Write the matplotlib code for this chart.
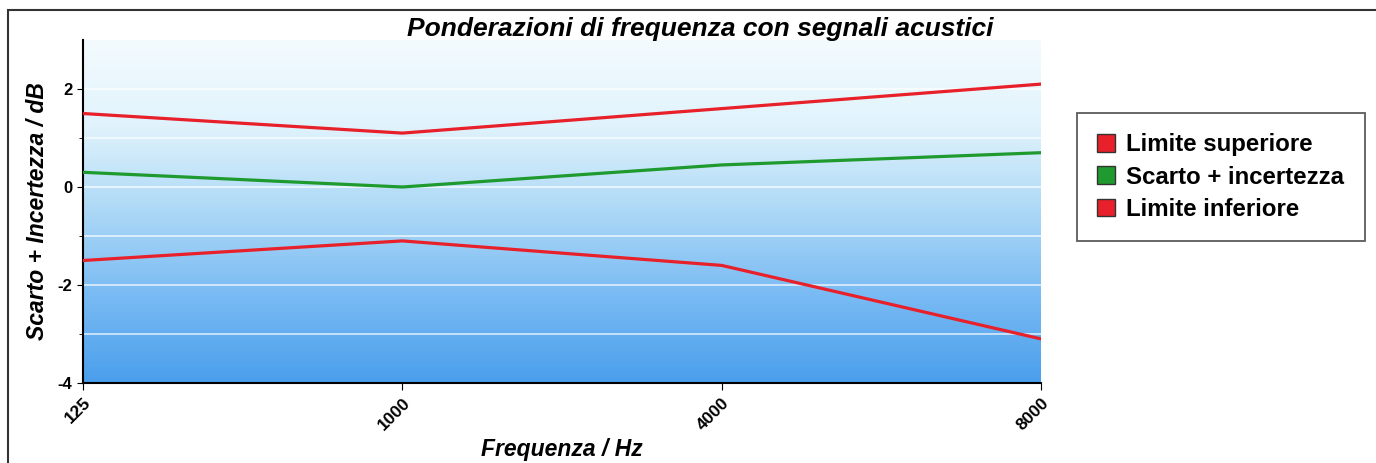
import matplotlib
matplotlib.use("Agg")
import matplotlib.pyplot as plt
import numpy as np
from matplotlib.colors import LinearSegmentedColormap
from matplotlib.patches import Rectangle

plt.rcParams["font.family"] = ["Liberation Sans", "DejaVu Sans"]
plt.rcParams["axes.unicode_minus"] = False

freqs = ["125", "1000", "4000", "8000"]
upper = [1.5, 1.1, 1.6, 2.1]
deviation = [0.3, 0.0, 0.45, 0.7]
lower = [-1.5, -1.1, -1.6, -3.1]

series_names = ["Limite superiore", "Scarto + incertezza", "Limite inferiore"]
series_colors = ["#e8202a", "#1f9a2e", "#e8202a"]

fig = plt.figure(figsize=(13.76, 4.63), dpi=100)
ax = fig.add_axes([83 / 1376, 1 - 383 / 463, (1041 - 83) / 1376, (383 - 40) / 463])

x = np.arange(len(freqs))

# background gradient, light at top to blue at bottom
cmap = LinearSegmentedColormap.from_list(
    "bg", ["#4a9eec", "#78baf3", "#acd8f6", "#e0f3fc", "#f4fbfe"])
grad = np.linspace(0, 1, 256).reshape(-1, 1)
ax.imshow(grad, cmap=cmap, origin="lower", aspect="auto",
          extent=[0, len(freqs) - 1, -4, 3], zorder=0)

for yv in range(-3, 3):
    ax.axhline(yv, color="white", lw=1.2, alpha=0.75, zorder=1)

for vals, col in zip([upper, deviation, lower], series_colors):
    ax.plot(x, vals, color=col, lw=2.3, zorder=3)

ax.set_xlim(0, len(freqs) - 1)
ax.set_ylim(-4, 3)
ax.set_xticks(x)
ax.set_xticklabels(freqs, rotation=45, ha="right", va="top",
                   fontsize=12.5, fontweight="bold", rotation_mode="anchor")
ax.set_yticks([-4, -2, 0, 2])
ax.set_yticks([-3, -1, 1], minor=True)
ax.tick_params(axis="y", which="major", labelsize=12, length=4)
ax.tick_params(axis="y", which="minor", length=3)
ax.tick_params(axis="x", length=5)
for lab in ax.get_yticklabels():
    lab.set_fontweight("bold")
for s in ["top", "right"]:
    ax.spines[s].set_visible(False)
ax.spines["left"].set_linewidth(1.5)
ax.spines["bottom"].set_linewidth(1.5)

ax.set_xlabel("Frequenza / Hz", fontsize=16.5, fontweight="bold",
              fontstyle="italic", labelpad=4)
ax.set_ylabel("Scarto + Incertezza / dB", fontsize=16.5, fontweight="bold",
              fontstyle="italic", labelpad=6)
fig.text(700 / 1376, 1 - 29 / 463, "Ponderazioni di frequenza con segnali acustici",
         ha="center", va="center", fontsize=19, fontweight="bold",
         fontstyle="italic")

# outer frame
fig.patches.append(Rectangle((8 / 1376, -0.05), 1.2, 1 - 10 / 463 + 0.05,
                             transform=fig.transFigure, fill=False,
                             edgecolor="#333333", lw=1.5))

handles = [plt.Rectangle((0, 0), 1, 1, facecolor=c, edgecolor="#333333")
           for c in series_colors]
leg = fig.legend(handles, series_names, loc="upper left",
                 bbox_to_anchor=(1077 / 1376, 1 - 113 / 463),
                 prop={"weight": "bold", "size": 17.3}, frameon=True,
                 fancybox=False, edgecolor="#333333", handlelength=0.75,
                 handleheight=0.75, handletextpad=0.45, borderpad=0.85,
                 labelspacing=0.38, borderaxespad=0)
leg.get_frame().set_linewidth(1.3)

fig.savefig("out.png", dpi=100)
